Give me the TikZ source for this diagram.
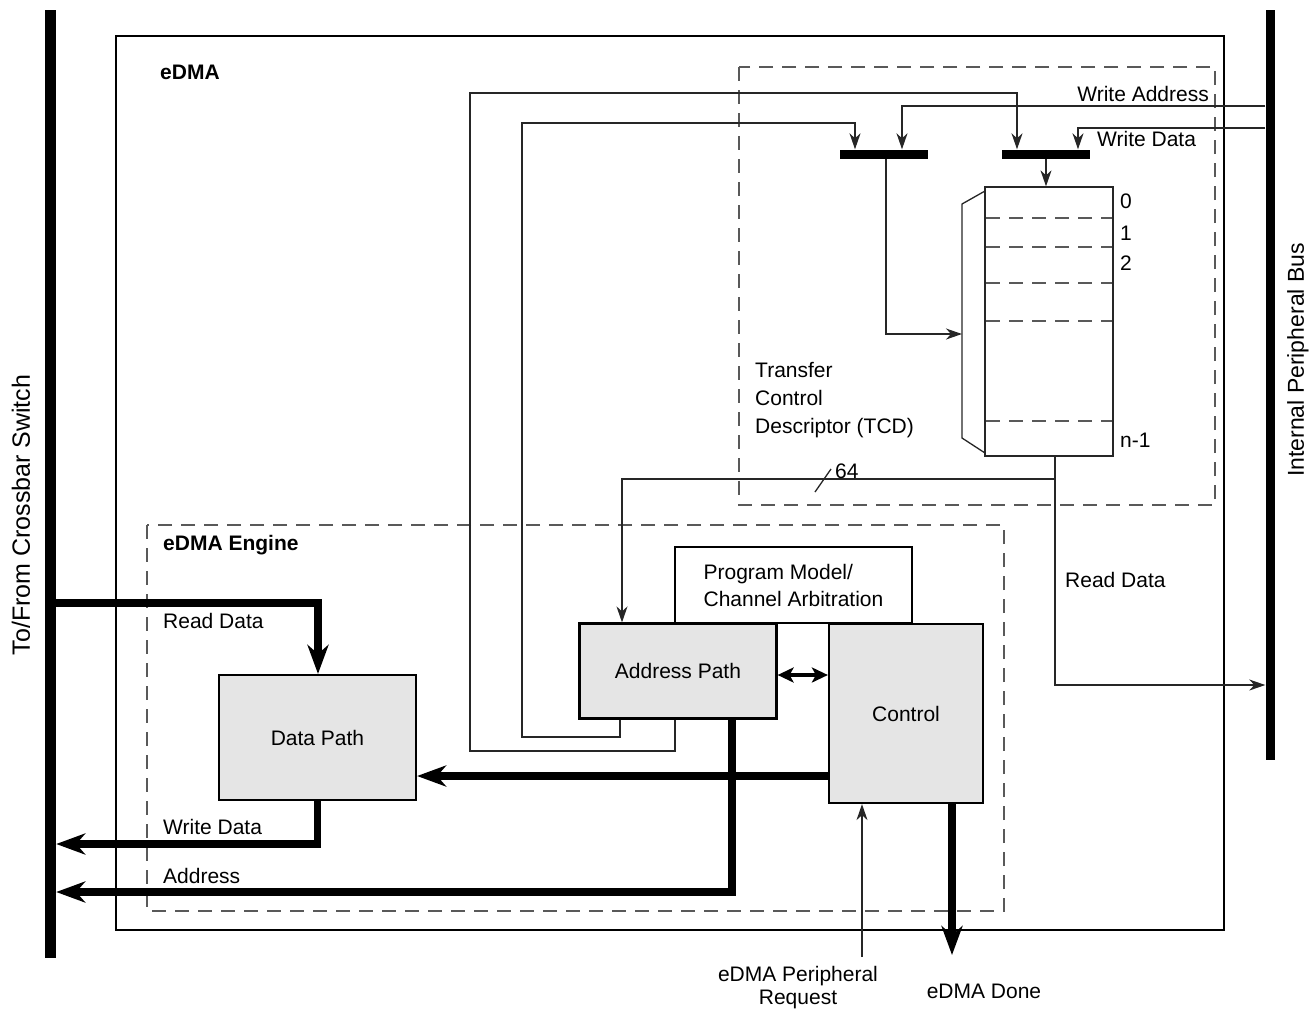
\documentclass[tikz,border=0pt]{standalone}
\usepackage{fontspec}
\setmainfont{Liberation Sans}
\usetikzlibrary{arrows.meta}
\begin{document}
\begin{tikzpicture}[x=1pt,y=-1pt,
  font=\fontsize{21}{25}\selectfont,
  thinln/.style={line width=1.3pt, draw=black!85},
  thk/.style={line width=7.5pt, line join=miter},
  tarrow/.style={-{Stealth[length=16pt,width=11pt,inset=5pt]}},
  karrow/.style={-{Stealth[length=29pt,width=21pt,inset=9pt]}},
  dsh/.style={draw=black!65, line width=1.2pt, dash pattern=on 14pt off 9pt},
  blk/.style={draw=black, line width=2.2pt, fill=black!10, inner sep=0pt},
  barbox/.style={fill=black, inner sep=0pt, minimum height=9pt, minimum width=88pt},
  lbl/.style={inner sep=0pt, anchor=west},
]
\useasboundingbox (0,0) rectangle (1309,1013);

% frames
\draw[line width=1.6pt] (116,36) rectangle (1224,930);
\draw[dsh] (739,67) rectangle (1215,505);
\draw[dsh] (147,525) rectangle (1004,911);
\node[lbl, font=\fontsize{21}{25}\selectfont\bfseries] (edma) at (160,72) {eDMA};
\node[lbl, font=\fontsize{21}{25}\selectfont\bfseries] (eng) at (163,545) {eDMA Engine};

% buses
\node[fill=black, inner sep=0pt, minimum width=11pt, minimum height=948pt] (lbus) at (50.5,484) {};
\node[fill=black, inner sep=0pt, minimum width=9pt, minimum height=750pt] (rbus) at (1270,385) {};
\node[rotate=90, inner sep=0pt, font=\fontsize{25}{30}\selectfont] (lbuslbl) at (21,515) {To/From Crossbar Switch};
\node[rotate=90, inner sep=0pt, font=\fontsize{23}{27}\selectfont] (rbuslbl) at (1298,360) {Internal Peripheral Bus};

% blocks
\node[draw=black, line width=2.2pt, fill=white, minimum width=237pt, minimum height=76pt, inner sep=0pt, align=left, font=\fontsize{21}{27}\selectfont] (prog) at (793.5,585) {Program Model/\\Channel Arbitration};
\node[blk, minimum width=197pt, minimum height=95pt] (addr) at (678,671) {Address Path};
\node[blk, minimum width=154pt, minimum height=179pt] (ctrl) at (906,713.5) {Control};
\node[blk, minimum width=197pt, minimum height=125pt] (data) at (317.5,737.5) {Data Path};

% TCD
\node[draw=black!85, line width=1.3pt, minimum width=128pt, minimum height=269pt, inner sep=0pt] (tcd) at (1049,321.5) {};
\foreach \yy in {218,247,283,321,421} \draw[dsh] (986,\yy) -- (1112,\yy);
\draw[thinln] (985,191) -- (962,204) -- (962,438) -- (985,453);
\node[lbl] (r0) at (1120,201) {0};
\node[lbl] (r1) at (1120,233) {1};
\node[lbl] (r2) at (1120,263) {2};
\node[lbl] (rn) at (1120,440) {n-1};
\node[lbl, align=left, font=\fontsize{21}{28}\selectfont] (tcdlbl) at (755,400) {Transfer\\Control\\Descriptor (TCD)};

% bars
\node[barbox] (bar1) at (884,154) {};
\node[barbox] (bar2) at (1046,154) {};

% write address / data
\draw[thinln,tarrow] (rbus.west |- 0,106) -- (902,106) -- (bar1.north -| 902,0);
\draw[thinln,tarrow] (rbus.west |- 0,128) -- (1078,128) -- (bar2.north -| 1078,0);
\node[inner sep=0pt, anchor=east] (walbl) at (1209,94) {Write Address};
\node[lbl] (wdlbl) at (1097,139) {Write Data};

% loops from address path
\draw[thinln,tarrow] (addr.south -| 675,0) -- (675,751) -- (470,751) -- (470,93) -- (1017,93) -- (bar2.north -| 1017,0);
\draw[thinln,tarrow] (addr.south -| 620,0) -- (620,737) -- (522,737) -- (522,123) -- (855,123) -- (bar1.north -| 855,0);

% bar outputs
\draw[thinln,tarrow] (bar1.south -| 886,0) -- (886,334) -- (962,334);
\draw[thinln,tarrow] (bar2.south) -- (bar2.south |- tcd.north);

% TCD output
\coordinate (jn) at (1055,479);
\draw[thinln,tarrow] (tcd.south -| jn) -- (jn) -- (622,479) -- (addr.north -| 622,0);
\draw[thinln,tarrow] (jn) -- (1055,685) -- (rbus.west |- 0,685);
\node[lbl] (rdlbl2) at (1065,580) {Read Data};
\draw[thinln] (815,492) -- (831,469);
\node[lbl] (w64) at (835,471) {64};

% address <-> control
\draw[line width=4pt, {Stealth[length=16pt,width=15pt,inset=4pt]}-{Stealth[length=16pt,width=15pt,inset=4pt]}] (addr.east |- 0,675) -- (ctrl.west |- 0,675);

% thick buses
\draw[thk,karrow] (ctrl.west |- 0,776) -- (data.east |- 0,776);
\draw[thk,karrow] (addr.south -| 732,0) -- (732,892) -- (lbus.east |- 0,892);
\draw[thk,karrow] (data.south) -- (317.5,844) -- (lbus.east |- 0,844);
\draw[thk,karrow] (lbus.east |- 0,603) -- (318,603) -- (data.north -| 318,0);
\draw[thk,karrow] (ctrl.south -| 952,0) -- (952,955);
\node[lbl] (rdlbl) at (163,621) {Read Data};
\node[lbl] (wdlbl2) at (163,827) {Write Data};
\node[lbl] (adlbl) at (163,876) {Address};

% peripheral request
\coordinate (preq) at (862,957);
\draw[thinln,tarrow] (preq) -- (ctrl.south -| preq);
\node[inner sep=0pt, align=center, font=\fontsize{21}{23}\selectfont] (preqlbl) at (798,988) {eDMA Peripheral\\Request};
\node[inner sep=0pt] (donelbl) at (984,991) {eDMA Done};
\end{tikzpicture}
\end{document}
